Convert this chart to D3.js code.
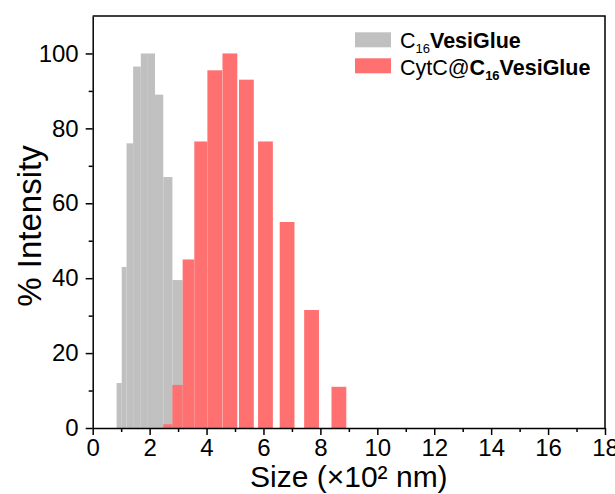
<!DOCTYPE html>
<html lang="en">
<head>
<meta charset="UTF-8">
<title>DLS size distribution</title>
<script src="https://d3js.org/d3.v7.min.js"></script>
<style>
  html, body { margin: 0; padding: 0; background: #fff; }
  svg { display: block; }
  text { font-family: "Liberation Sans", Arial, sans-serif; fill: #000; }
  .axis path, .axis line { stroke: #000; stroke-width: 1.5px; }
  .axis text { font-size: 24px; font-family: "Liberation Sans", Arial, sans-serif; }
</style>
</head>
<body>
<svg width="615" height="494"></svg>

<script>
// size bins (x10^2 nm) and % intensity
const sizeC16 = [0.84, 1.02, 1.19, 1.42, 1.69, 1.94, 2.19, 2.48, 2.80];
const intC16  = [12, 43, 76, 96.5, 100, 100, 89, 67, 39.5];
const sizeCyt = [2.48, 2.80, 3.16, 3.57, 4.03, 4.56, 5.14, 5.81, 6.57, 7.43, 8.39];
const intCyt  = [1, 11.5, 45, 76.5, 95.5, 100, 93, 76.5, 55, 31.5, 11];

const xMajor = d3.range(0, 19, 2);
const xMinor = d3.range(1, 18, 2);
const yMajor = [0, 20, 40, 60, 80, 100];
const yMinor = [10, 30, 50, 70, 90];

const svg = d3.select("svg");
const plotL = 92.7, plotR = 605, plotT = 16, plotB = 428;

const x = d3.scaleLinear().domain([0, 18]).range([plotL, plotR]);
const y = d3.scaleLinear().domain([0, 110]).range([plotB, plotT]);

function drawBars(sizes, vals, width, color) {
  const bars = sizes.map((s, i) => ({
    x0: s,
    x1: i < sizes.length - 1 ? Math.min(s + width, sizes[i + 1]) : s + width,
    v: vals[i]
  }));
  svg.append("g").selectAll("rect")
    .data(bars)
    .enter().append("rect")
    .attr("x", d => x(d.x0))
    .attr("width", d => x(d.x1) - x(d.x0))
    .attr("y", d => y(d.v))
    .attr("height", d => y(0) - y(d.v))
    .attr("fill", color);
}

drawBars(sizeC16, intC16, 0.36, "#c0c0c0");
drawBars(sizeCyt, intCyt, 0.52, "#ff7070");

// frame: top and right lines without ticks
svg.append("path")
  .attr("d", `M${plotL},${plotT}H${plotR}V${plotB}`)
  .attr("fill", "none").attr("stroke", "#000").attr("stroke-width", 1.5);

// minor ticks
svg.append("g").attr("class", "axis")
  .attr("transform", `translate(0,${plotB})`)
  .call(d3.axisBottom(x).tickValues(xMinor).tickSize(4).tickFormat(""))
  .select(".domain").remove();
svg.append("g").attr("class", "axis")
  .attr("transform", `translate(${plotL},0)`)
  .call(d3.axisLeft(y).tickValues(yMinor).tickSize(4).tickFormat(""))
  .select(".domain").remove();

// major axes
svg.append("g").attr("class", "axis")
  .attr("transform", `translate(0,${plotB})`)
  .call(d3.axisBottom(x).tickValues(xMajor).tickSize(7).tickPadding(4).tickSizeOuter(0));
svg.append("g").attr("class", "axis")
  .attr("transform", `translate(${plotL},0)`)
  .call(d3.axisLeft(y).tickValues(yMajor).tickSize(7).tickPadding(7).tickSizeOuter(0));

// axis titles
svg.append("text")
  .attr("x", (plotL + plotR) / 2).attr("y", 487)
  .attr("text-anchor", "middle").attr("font-size", 30)
  .text("Size (×10² nm)");
svg.append("text")
  .attr("transform", `translate(41,${(plotT + plotB) / 2 + 4}) rotate(-90)`)
  .attr("text-anchor", "middle").attr("font-size", 33)
  .text("% Intensity");

// legend
const legend = svg.append("g").attr("font-size", 21.5);
const items = [
  { color: "#c0c0c0", y: 32.3 },
  { color: "#ff7070", y: 58.3 }
];
legend.selectAll("rect").data(items).enter().append("rect")
  .attr("x", 355).attr("y", d => d.y).attr("width", 36).attr("height", 15)
  .attr("fill", d => d.color);

const t1 = legend.append("text").attr("x", 400).attr("y", 47.5);
t1.append("tspan").text("C");
t1.append("tspan").attr("font-size", 13).attr("dy", 5).text("16");
t1.append("tspan").attr("font-weight", "bold").attr("dy", -5).text("VesiGlue");

const t2 = legend.append("text").attr("x", 400).attr("y", 74.5);
t2.append("tspan").text("CytC@");
t2.append("tspan").attr("font-weight", "bold").text("C");
t2.append("tspan").attr("font-weight", "bold").attr("font-size", 13).attr("dy", 5).text("16");
t2.append("tspan").attr("font-weight", "bold").attr("dy", -5).text("VesiGlue");
</script>
</body>
</html>
